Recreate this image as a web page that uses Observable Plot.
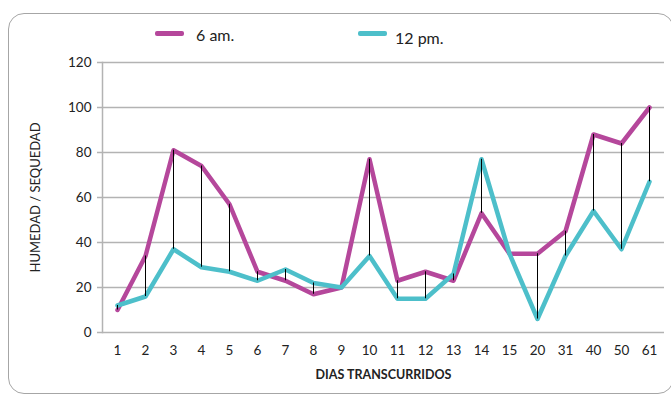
<!DOCTYPE html>
<html>
<head>
<meta charset="utf-8">
<script src="https://cdn.jsdelivr.net/npm/d3@7"></script>
<script src="https://cdn.jsdelivr.net/npm/@observablehq/plot@0.6"></script>
<style>
  body { margin: 0; background: #fff; }
  #wrap { position: relative; width: 671px; height: 396px; overflow: hidden; font-family: Lato, "Open Sans", sans-serif; color: #222; }
  #box { position: absolute; left: 8px; top: 13px; width: 664px; height: 379px; border: 1.5px solid #a6a6a6; border-radius: 16px; pointer-events: none; }
  #legend { position: relative; height: 50px; }
  .sw { position: absolute; height: 4.5px; border-radius: 2px; }
  .lb { position: absolute; font-size: 16px; line-height: 16px; color: #222; }
</style>
</head>
<body>
<div id="wrap">
  <div id="legend"></div>
  <div id="chart"></div>
  <div id="box"></div>
</div>
<script>
// Days elapsed (categorical x axis)
const days = ["1","2","3","4","5","6","7","8","9","10","11","12","13","14","15","20","31","40","50","61"];
// Readings taken at 6 am
const am6 = [10,34,81,74,57,27,23,17,20,77,23,27,23,53,35,35,45,88,84,100];
// Readings taken at 12 pm
const pm12 = [12,16,37,29,27,23,28,22,20,34,15,15,26,77,35,6,34,54,37,67];
const yTicks = [0,20,40,60,80,100,120];
const seriesNames = ["6 am.", "12 pm."];
const seriesColors = ["#b5479b", "#4dbfca"];

const rows = days.map((d, i) => ({day: d, am: am6[i], pm: pm12[i]}));

// Legend above the plot
const legend = document.getElementById("legend");
const legendPos = [{sx: 155, sy: 31, tx: 196, ty: 27}, {sx: 358, sy: 31, tx: 395, ty: 30}];
seriesNames.forEach((name, i) => {
  const p = legendPos[i];
  const sw = document.createElement("div");
  sw.className = "sw";
  sw.style.cssText = `left:${p.sx}px;top:${p.sy}px;width:29px;background:${seriesColors[i]}`;
  legend.appendChild(sw);
  const lb = document.createElement("div");
  lb.className = "lb";
  lb.style.cssText = `left:${p.tx}px;top:${p.ty}px`;
  lb.textContent = name;
  legend.appendChild(lb);
});

const chart = Plot.plot({
  width: 671,
  height: 346,
  marginLeft: 102,
  marginRight: 7,
  marginTop: 12,
  marginBottom: 64,
  style: {background: "transparent", fontFamily: "Lato, 'Open Sans', sans-serif", fontSize: "13px", color: "#222"},
  x: {type: "point", domain: days, padding: 0.5},
  y: {domain: [0, 120]},
  marks: [
    Plot.ruleY(yTicks, {stroke: "#b3b3b3", strokeWidth: 1.5, insetLeft: -5}),
    Plot.frame({anchor: "left", stroke: "#b3b3b3", strokeWidth: 1.5}),
    Plot.axisY(yTicks, {tickSize: 0, tickPadding: 11, fontSize: 13.5, label: null}),
    Plot.axisX({tickSize: 0, tickPadding: 13, fontSize: 13.5, label: null}),
    Plot.line(rows, {x: "day", y: "am", stroke: seriesColors[0], strokeWidth: 4.5, strokeLinejoin: "round", strokeLinecap: "round"}),
    Plot.line(rows, {x: "day", y: "pm", stroke: seriesColors[1], strokeWidth: 4.5, strokeLinejoin: "round", strokeLinecap: "round"}),
    Plot.ruleX(rows, {x: "day", y1: "am", y2: "pm", stroke: "#000", strokeWidth: 1}),
    Plot.text(["DIAS TRANSCURRIDOS"], {frameAnchor: "bottom", lineAnchor: "middle", dy: 42, fontWeight: "bold", fontSize: 12.5, fill: "#222"}),
    Plot.text(["HUMEDAD / SEQUEDAD"], {frameAnchor: "left", textAnchor: "middle", lineAnchor: "middle", dx: -67, rotate: -90, fontSize: 13, fill: "#222"})
  ]
});
document.getElementById("chart").appendChild(chart);
</script>
</body>
</html>
